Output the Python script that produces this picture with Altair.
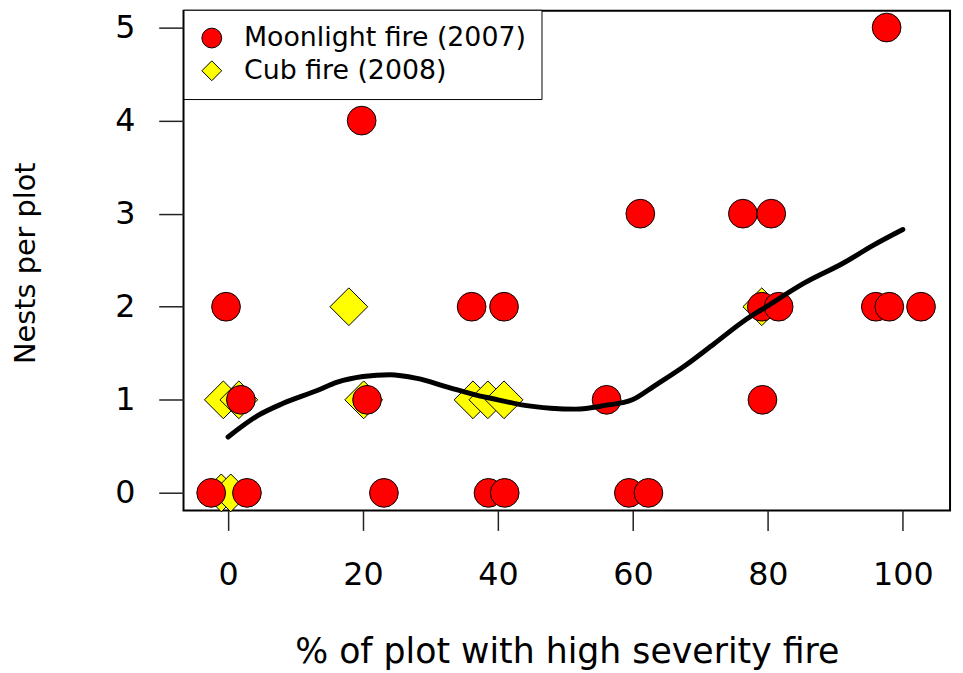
import altair as alt
import pandas as pd

# ---- data ----
SERIES = ["Moonlight fire (2007)", "Cub fire (2008)"]

moon_x = [-2.5, 2.8, 23.1, 38.6, 41.0, 59.4, 62.3,
          1.9, 20.6, 56.1, 79.2,
          -0.3, 36.1, 40.9, 79.1, 81.6, 96.0, 98.0, 102.7,
          61.1, 76.3, 80.5,
          19.8,
          97.6]
moon_y = [0, 0, 0, 0, 0, 0, 0,
          1, 1, 1, 1,
          2, 2, 2, 2, 2, 2, 2, 2,
          3, 3, 3,
          4,
          5]

cub_x = [-1.0, 0.4,
         -0.7, 1.6, 20.1, 36.3, 38.5, 40.9,
         17.9, 79.1]
cub_y = [0, 0,
         1, 1, 1, 1, 1, 1,
         2, 2]

fit_x = [0, 4.4, 8.1, 13.2, 16.2, 20, 24, 28, 32.4, 36.8, 40, 44, 47.8, 51.5,
         55.9, 59.9, 63.2, 67.6, 72, 76.5, 80, 85.3, 91.2, 95.6, 100]
fit_y = [0.60, 0.83, 0.96, 1.10, 1.19, 1.25, 1.27, 1.23, 1.14, 1.05, 1.00, 0.94,
         0.91, 0.90, 0.94, 1.00, 1.15, 1.36, 1.60, 1.85, 2.01, 2.25, 2.47, 2.66, 2.83]

x_ticks = [0, 20, 40, 60, 80, 100]
y_ticks = [0, 1, 2, 3, 4, 5]

# ---- tables ----
pts = pd.DataFrame({
    "x": cub_x + moon_x,
    "y": cub_y + moon_y,
    "fire": [SERIES[1]] * len(cub_x) + [SERIES[0]] * len(moon_x),
})
fit = pd.DataFrame({"x": fit_x, "y": fit_y})

FONT = "DejaVu Sans"

xscale = alt.Scale(domain=[-6.6, 107.0], nice=False, zero=False)
yscale = alt.Scale(domain=[-0.19, 5.18], nice=False, zero=False)

xaxis = alt.Axis(values=x_ticks, format="d", title="% of plot with high severity fire", grid=False,
                 domain=False, tickSize=20, tickColor="#222222", tickWidth=1.5,
                 labelFont=FONT, labelFontSize=32, labelColor="black",
                 labelBaseline="alphabetic", labelPadding=55,
                 titleFont=FONT, titleFontSize=35, titleFontWeight="normal",
                 titleColor="black", titleBaseline="alphabetic", titleY=153)

yaxis = alt.Axis(values=y_ticks, format="d", title="Nests per plot", grid=False, domain=False,
                 tickSize=25, tickColor="#222222", tickWidth=1.5,
                 labelFont=FONT, labelFontSize=32, labelColor="black", labelPadding=24,
                 titleFont=FONT, titleFontSize=29, titleFontWeight="normal",
                 titleColor="black", titleBaseline="alphabetic", titleAngle=270,
                 titleX=-150, titleY=254)

legend = alt.Legend(title=None, orient="none", legendX=0, legendY=-1,
                    padding=15, rowPadding=5, labelOffset=19, labelLimit=500,
                    labelFont=FONT, labelFontSize=27, labelColor="black",
                    symbolSize=400, symbolStrokeColor="black", symbolStrokeWidth=1,
                    strokeColor="black", fillColor="white")

points = alt.Chart(pts).mark_point(filled=True, stroke="black", strokeWidth=1, opacity=1).encode(
    x=alt.X("x:Q", scale=xscale, axis=xaxis),
    y=alt.Y("y:Q", scale=yscale, axis=yaxis),
    color=alt.Color("fire:N", scale=alt.Scale(domain=SERIES, range=["#ff0000", "#ffff00"]),
                    legend=legend),
    shape=alt.Shape("fire:N", scale=alt.Scale(domain=SERIES, range=["circle", "diamond"]),
                    legend=legend),
    size=alt.condition(alt.datum.fire == SERIES[1], alt.value(1450), alt.value(840)),
    order=alt.Order("o:Q"),
).transform_calculate(o="datum.fire == 'Cub fire (2008)' ? 0 : 1")

line = alt.Chart(fit).mark_line(color="black", strokeWidth=5, strokeCap="round",
                                strokeJoin="round", interpolate="monotone").encode(
    x=alt.X("x:Q", scale=xscale),
    y=alt.Y("y:Q", scale=yscale),
)

chart = alt.layer(points, line).properties(
    width=773, height=504,
    autosize=alt.AutoSizeParams(type="none"),
    padding={"left": 177, "top": 0, "right": 5, "bottom": 160},
    view=alt.ViewBackground(stroke="black", strokeWidth=2),
).configure(background="white")

chart.save("out.html", embed_options={"renderer": "svg", "actions": False})
